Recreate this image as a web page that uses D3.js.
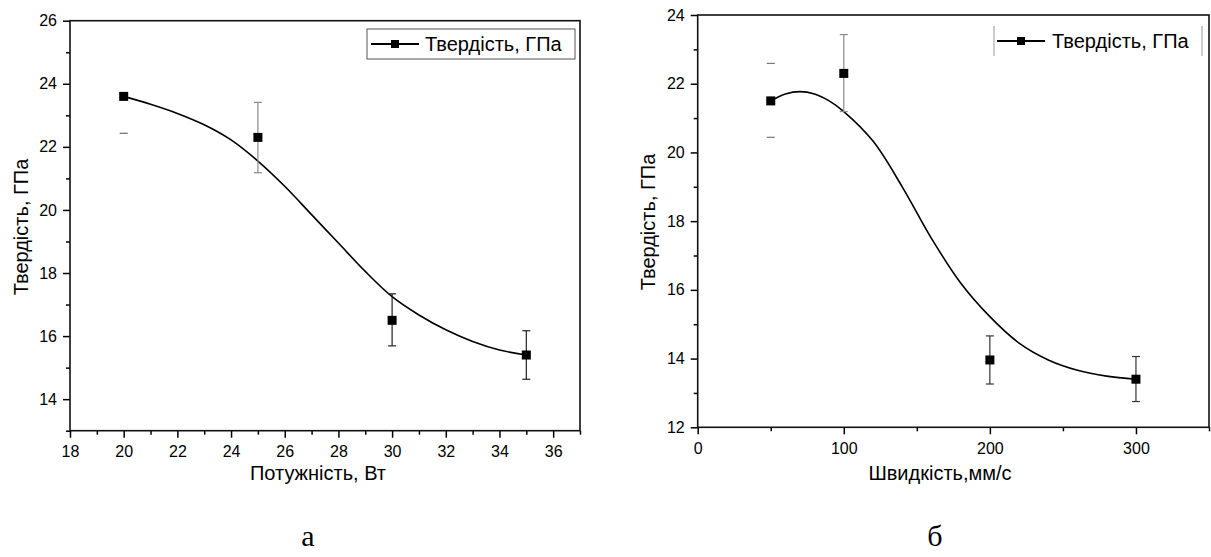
<!DOCTYPE html>
<html>
<head>
<meta charset="utf-8">
<script src="https://cdn.jsdelivr.net/npm/d3@7"></script>
<style>
  body { margin: 0; background: #fff; }
  svg { display: block; }
  text { font-family: "Liberation Sans", Arial, sans-serif; fill: #000; }
</style>
</head>
<body>
<svg id="chart" width="1211" height="557"></svg>
<script>
// --- chart a: hardness vs power ---
const powerX = [20, 25, 30, 35]
const powerHard = [23.6, 22.3, 16.5, 15.4]
const powerErrLow = [22.43, 21.18, 15.69, 14.63]
const powerErrHigh = [null, 23.41, 17.34, 16.17]
// fitted curve
const powerCurveX = [20, 21, 22, 23, 24, 25, 26, 27, 28, 29, 30, 31, 32, 33, 34, 35]
const powerCurveY = [23.6, 23.35, 23.06, 22.7, 22.22, 21.55, 20.75, 19.85, 18.95, 18.05, 17.25, 16.67, 16.2, 15.83, 15.56, 15.4]
const powerXTicks = [18, 20, 22, 24, 26, 28, 30, 32, 34, 36]
const powerYTicks = [14, 16, 18, 20, 22, 24, 26]

// --- chart b: hardness vs speed ---
const speedX = [50, 100, 200, 300]
const speedHard = [21.5, 22.3, 13.96, 13.4]
const speedErrLow = [20.44, 21.19, 13.26, 12.75]
const speedErrHigh = [22.59, 23.43, 14.66, 14.06]
const speedCurveX = [50, 60, 70, 80, 90, 100, 120, 140, 160, 180, 200, 220, 240, 260, 280, 300]
const speedCurveY = [21.5, 21.7, 21.77, 21.7, 21.5, 21.19, 20.33, 19.0, 17.5, 16.2, 15.22, 14.45, 13.96, 13.66, 13.49, 13.4]
const speedXTicks = [0, 100, 200, 300]
const speedYTicks = [12, 14, 16, 18, 20, 22, 24]

const legendLabel = "Твердість, ГПа"
const yTitle = "Твердість, ГПа"

const svg = d3.select("#chart")

function drawPanel (cfg) {
  const x = d3.scaleLinear().domain(cfg.xDomain).range(cfg.xRange)
  const y = d3.scaleLinear().domain(cfg.yDomain).range(cfg.yRange)
  const g = svg.append("g")

  // minor ticks
  g.append("g")
    .attr("transform", `translate(0,${cfg.yRange[0]})`)
    .call(d3.axisBottom(x).tickValues(cfg.xMinor).tickSize(4).tickFormat(""))
    .call(a => a.select(".domain").remove())
  g.append("g")
    .attr("transform", `translate(${cfg.xRange[0]},0)`)
    .call(d3.axisLeft(y).tickValues(cfg.yMinor).tickSize(4).tickFormat(""))
    .call(a => a.select(".domain").remove())

  // major ticks
  g.append("g")
    .attr("transform", `translate(0,${cfg.yRange[0]})`)
    .call(d3.axisBottom(x).tickValues(cfg.xTicks).tickSize(7).tickPadding(8))
    .call(a => a.select(".domain").remove())
    .call(a => a.selectAll("text").style("font-size", "16px").style("font-family", "Liberation Sans, Arial, sans-serif"))
  g.append("g")
    .attr("transform", `translate(${cfg.xRange[0]},0)`)
    .call(d3.axisLeft(y).tickValues(cfg.yTicks).tickSize(7).tickPadding(6))
    .call(a => a.select(".domain").remove())
    .call(a => a.selectAll("text").style("font-size", "16px").style("font-family", "Liberation Sans, Arial, sans-serif"))
  g.selectAll(".tick line").attr("stroke", "#000").attr("stroke-width", 1.5)

  // frame
  g.append("rect")
    .attr("x", cfg.xRange[0]).attr("y", cfg.yRange[1])
    .attr("width", cfg.xRange[1] - cfg.xRange[0])
    .attr("height", cfg.yRange[0] - cfg.yRange[1])
    .attr("fill", "none").attr("stroke", "#111").attr("stroke-width", 1.6)

  // fitted curve
  const curvePts = cfg.curveX.map((v, i) => [v, cfg.curveY[i]])
  g.append("path")
    .datum(curvePts)
    .attr("fill", "none").attr("stroke", "#000").attr("stroke-width", 1.6)
    .attr("d", d3.line().x(d => x(d[0])).y(d => y(d[1])).curve(d3.curveCatmullRom.alpha(0.5)))

  // error bars
  const cap = 4
  cfg.px.forEach((v, i) => {
    const cx = x(v)
    const col = cfg.errColors[i]
    const lo = cfg.errLow[i], hi = cfg.errHigh[i]
    if (cfg.stems[i] && lo != null && hi != null) {
      g.append("line").attr("x1", cx).attr("x2", cx)
        .attr("y1", y(lo)).attr("y2", y(hi))
        .attr("stroke", col).attr("stroke-width", 1.2)
    }
    ;[lo, hi].forEach(e => {
      if (e == null) return
      g.append("line").attr("x1", cx - cap).attr("x2", cx + cap)
        .attr("y1", y(e)).attr("y2", y(e))
        .attr("stroke", col).attr("stroke-width", 1.2)
    })
  })

  // markers
  const s = 9
  g.selectAll(".pt").data(cfg.px.map((v, i) => [v, cfg.py[i]]))
    .enter().append("rect")
    .attr("x", d => x(d[0]) - s / 2).attr("y", d => y(d[1]) - s / 2)
    .attr("width", s).attr("height", s).attr("fill", "#000")

  // axis titles
  g.append("text")
    .attr("x", cfg.xTitlePos[0]).attr("y", cfg.xTitlePos[1])
    .attr("text-anchor", "middle").style("font-size", "20px")
    .text(cfg.xTitle)
  g.append("text")
    .attr("transform", `translate(${cfg.yTitlePos[0]},${cfg.yTitlePos[1]}) rotate(-90)`)
    .attr("text-anchor", "middle").attr("dominant-baseline", "central")
    .style("font-size", "20px")
    .text(yTitle)

  // legend
  const L = cfg.legend
  if (L.box) {
    g.append("rect").attr("x", L.x0).attr("y", L.y0)
      .attr("width", L.x1 - L.x0).attr("height", L.y1 - L.y0)
      .attr("fill", "#fff").attr("stroke", "#555").attr("stroke-width", 1)
  } else {
    ;[L.x0, L.x1].forEach(lx => g.append("line")
      .attr("x1", lx).attr("x2", lx).attr("y1", L.y0).attr("y2", L.y1)
      .attr("stroke", "#999").attr("stroke-width", 1))
  }
  const ly = (L.y0 + L.y1) / 2
  g.append("line").attr("x1", L.lineX[0]).attr("x2", L.lineX[1])
    .attr("y1", ly).attr("y2", ly).attr("stroke", "#000").attr("stroke-width", 1.8)
  g.append("rect").attr("x", (L.lineX[0] + L.lineX[1]) / 2 - 4).attr("y", ly - 4)
    .attr("width", 8).attr("height", 8).attr("fill", "#000")
  g.append("text").attr("x", L.textX).attr("y", ly)
    .attr("dominant-baseline", "central").style("font-size", "20px")
    .text(legendLabel)

  // caption
  svg.append("text")
    .attr("x", cfg.caption[1]).attr("y", 546)
    .attr("text-anchor", "middle")
    .style("font-family", "Liberation Serif, Times New Roman, serif")
    .style("font-size", "30px")
    .text(cfg.caption[0])
}

drawPanel({
  xDomain: [18, 37], xRange: [70, 580],
  yDomain: [13, 26], yRange: [430.7, 20.7],
  xTicks: powerXTicks, yTicks: powerYTicks,
  xMinor: d3.range(19, 38, 2), yMinor: d3.range(13, 26, 2),
  px: powerX, py: powerHard, errLow: powerErrLow, errHigh: powerErrHigh,
  stems: [false, true, true, true],
  errColors: ["#666", "#8a8a8a", "#222", "#222"],
  curveX: powerCurveX, curveY: powerCurveY,
  xTitle: "Потужність, Вт", xTitlePos: [318, 480],
  yTitlePos: [21, 227],
  legend: { box: true, x0: 367, x1: 575, y0: 29, y1: 59, lineX: [371, 419], textX: 425 },
  caption: ["а", 308]
})

drawPanel({
  xDomain: [0, 350], xRange: [697.7, 1209],
  yDomain: [12, 24], yRange: [427.3, 15],
  xTicks: speedXTicks, yTicks: speedYTicks,
  xMinor: [50, 150, 250, 350], yMinor: d3.range(13, 24, 2),
  px: speedX, py: speedHard, errLow: speedErrLow, errHigh: speedErrHigh,
  stems: [false, true, true, true],
  errColors: ["#777", "#8a8a8a", "#333", "#333"],
  curveX: speedCurveX, curveY: speedCurveY,
  xTitle: "Швидкість,мм/с", xTitlePos: [940, 480],
  yTitlePos: [648, 222],
  legend: { box: false, x0: 994, x1: 1202, y0: 26, y1: 56, lineX: [997, 1045], textX: 1052 },
  caption: ["б", 935]
})
</script>
</body>
</html>
